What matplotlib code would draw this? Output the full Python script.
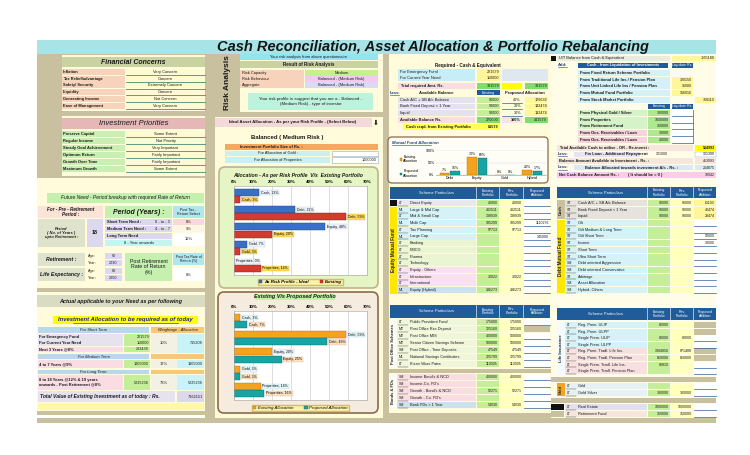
import matplotlib
matplotlib.use('Agg')
import matplotlib.pyplot as plt
from matplotlib.patches import Rectangle, FancyBboxPatch
import numpy as np

plt.rcParams['font.family'] = ['Liberation Sans', 'DejaVu Sans']

# ---------------- data ----------------
title = "Cash Reconciliation, Asset Allocation & Portfolio Rebalancing"
asset_classes = ['Cash', 'Debt', 'Equity', 'Gold', 'Properties']
ideal_alloc = [13, 32, 48, 7, 0]
existing_alloc = [3, 59, 20, 3, 14]
proposed_alloc = [7, 49, 25, 3, 16]
alloc_ticks = [0, 10, 20, 30, 40, 50, 60, 70]

mf_classes = ['Debt', 'Equity', 'Gold', 'Hybrid']
mf_existing = [7, 73, 0, 20]
mf_proposed = [15, 68, 0, 17]
mf_ticks = [0, 50, 100]

fin_concerns = ['Inflation', 'Tax Relief/advantage', 'Safety/ Security', 'Liquidity',
                'Generating Income', 'Ease of Management']
fin_levels = ['Very Concern', 'Concern', 'Extremely Concern', 'Concern', 'Not Concern', 'Very Concern']
priorities = ['Preserve Capital', 'Regular Income', 'Steady Goal Achievement', 'Optimum Return',
              'Growth Over Time', 'Maximum Growth']
priority_levels = ['Some Extent', 'Not Priority', 'Very Important', 'Fairly Important',
                   'Fairly Important', 'Some Extent']

risk_items = ['Risk Capacity', 'Risk Behaviour', 'Aggregate']
risk_results = ['Medium', 'Balanced - (Medium Risk)', 'Balanced - (Medium Risk)']

need_terms = ['Short Term Need :', 'Medium Term Need :', 'Long Term Need']
need_ranges = ['0 - to - 3', '4 - to - 7', '']
need_returns = ['8%', '9%', '12%']

short_labels = ['For Emergency Fund', 'For Current Year Need', 'Next 3 Years @8%']
short_values = ['221579', '110000', '283438']
term_weights = ['10%', '17%', '73%']
term_alloc = ['715208', '1305000', '5225236']
medium_value = '1305000'
long_value = '5225236'
total_existing = '7162151'

cash_req_labels = ['For Emergency Fund', 'For Current Year Need']
cash_req_values = ['221579', '110000']
total_required = '331579'
avail_labels = ['Cash A/C + SB A/c Balance', 'Bank Fixed Deposit < 1 Year', 'Liquid']
avail_existing = ['90000', '90000', '90000']
avail_pct = ['40%', '30%', '30%']
avail_proposed = ['176632', '132474', '132474']
avail_total = '270000'
proposed_total = '441579'
cash_reqd = '61579'

eq_codes = ['LT', 'ML', 'LT', 'ML', 'LT', 'ML', 'LT', 'LT', 'LT', 'LT', 'LT', 'LT', 'LT', 'ML']
eq_schemes = ['Direct Equity', 'Large & Mid Cap', 'Mid & Small Cap', 'Multi Cap', 'Tax Planning',
              'Large Cap', 'Banking', 'FMCG', 'Pharma', 'Technology', 'Equity - Others',
              'Infrastructure', 'International', 'Equity (Hybrid)']
eq_existing = ['40000', '402511', '138939', '185299', '97713', '', '', '', '', '', '', '32022', '', '286273']
eq_revised = ['40000', '402511', '138939', '185299', '97713', '', '', '', '', '', '', '32022', '', '286273']
eq_proposed = ['', '', '', '1110276', '', '145000', '', '', '', '', '', '', '', '']

po_codes = ['LT', 'MT', 'MT', 'MT', 'SM', 'ML', 'LT']
po_schemes = ['Public Provident Fund', 'Post Office Rec Deposit', 'Post Office MIS',
              'Senior Citizen Savings Scheme', 'Post Office - Time Deposits',
              'National Savings Certificates', 'Kisan Vikas Patra']
po_existing = ['175000', '125160', '400000', '500000', '47549', '125799', '110005']
po_revised = ['175000', '125160', '500000', '500000', '47549', '125799', '110005']

bond_codes = ['SM', 'SM', 'SM', 'SM', 'SM']
bond_schemes = ["Income Bond's & NCD", "Income-Co. FD's", "Growth - Bond's & NCD",
                "Growth - Co. FD's", "Bank FDs > 1 Year"]
bond_existing = ['400000', '', '52271', '', '54030']
bond_revised = ['400000', '', '52271', '', '54030']

liq_labels = ['From Fixed Return Scheme Portfolio', 'From Traditional Life Ins / Pension Plan',
              'From Unit Linked Life Ins / Pension Plan', 'From Mutual Fund Portfolio',
              'From Stock Market Portfolio']
liq_values = ['', '320150', '36000', '156016', '758110']
asset_liq_labels = ['From Physical Gold / Silver', 'From Properties', 'From Retirement Fund',
                    'From Ocs. Receivables / Loan', 'From Ocs. Receivables / Loan']
asset_liq_existing = ['300000', '1000000', '150000', '30000', '40000']
ut_balance = '-165180'
total_available = '534993'
loan_repay = ['121000', '121390']
balance_available = '413993'
balance_allocated = '204875'
net_cash = '10942'

cash_codes = ['ST', 'ST', 'ST']
cash_schemes = ['Cash A/C + SB A/c Balance', 'Bank Fixed Deposit < 1 Year', 'Liquid']
cash_existing = ['90000', '90000', '90000']
cash_revised = ['90000', '90000', '90000']
cash_proposed = ['61103', '42474', '28474']

debt_codes = ['ST', 'ST', 'ST', 'ST', 'ST', 'ST', 'SM', 'SM', 'ST', 'SM', 'SM']
debt_schemes = ['Gilt', 'Gilt Medium & Long Term', 'Gilt Short Term', 'Income', 'Short Term',
                'Ultra Short Term', 'Debt oriented Aggressive', 'Debt oriented Conservative',
                'Arbitrage', 'Asset Allocation', 'Hybrid- Others']
debt_proposed = ['', '', '50000', '30000', '', '', '', '', '', '', '']

ins_codes = ['LT'] * 8
ins_schemes = ['Reg. Prem. ULIP', 'Reg. Prem. ULPP', 'Single Prem. ULIP', 'Single Prem. ULPP',
               'Reg. Prem. Tradl. Life Ins.', 'Reg. Prem. Tradl. Pension Plan',
               'Single Prem. Tradl. Life Ins.', 'Single Prem. Tradl. Pension Plan']
ins_existing = ['80000', '', '80000', '', '1384850', '860000', '80810', '']
ins_revised = ['', '', '80000', '', '871488', '860000', '', '']

gold_codes = ['LT', 'LT']
gold_schemes = ['Gold', 'Gold Silver']
gold_existing = ['', '300000']
gold_revised = ['', '300000']

other_codes = ['LT', 'LT']
other_schemes = ['Real Estate', 'Retirement Fund']
other_existing = ['1000000', '150000']
other_revised = ['1000000', '150000']

# ---------------- colours ----------------
TAN = '#c9c09f'
LY = '#fffbdb'
CYAN = '#a8e4e6'
OLIVE = '#c9d3a2'
PEACH = '#f7d3bc'
PINKH = '#e6b7b7'
LGREEN = '#c9efb2'
LIME = '#c5ee98'
PALEY = '#ffffbe'
LCYAN = '#d5f2f8'
PINK = '#f9dde3'
LAV = '#dcd9ef'
BLUE = '#1f5c99'
GREENV = '#7ee06a'
YEL = '#fff59a'

fig = plt.figure(figsize=(7.5, 4.55), dpi=100)
fig.patch.set_facecolor('white')
ax = fig.add_axes([0, 0, 1, 1])
ax.set_xlim(0, 750)
ax.set_ylim(455, 0)
ax.axis('off')


def R(x0, y0, x1, y1, fc, ec='none', lw=0.4, z=1):
    ax.add_patch(Rectangle((x0, y0), x1 - x0, y1 - y0, facecolor=fc, edgecolor=ec, linewidth=lw, zorder=z))


def T(x, y, s, fs=3.0, ha='left', va='center', c='#1a1a1a', w='normal', st='normal', z=5, **kw):
    ax.text(x, y, s, fontsize=fs, ha=ha, va=va, color=c, fontweight=w, fontstyle=st, zorder=z, **kw)


def UL(x0, x1, y, c='#2f5f9f', lw=0.5):
    ax.plot([x0, x1], [y, y], color=c, lw=lw, zorder=4)


# ---------------- background / frame ----------------
R(37, 40, 716, 54, CYAN)
T(433, 47.5, title, fs=10.5, w='bold', st='italic', ha='center', c='#151515')
R(37, 54, 215, 178, TAN)
R(62, 55, 205, 176, LY)
R(37, 178, 205, 411, LY)
R(205, 54, 215, 418, TAN)
R(37, 411, 205, 415, TAN)
R(215, 54, 383, 418, LY)
R(383, 54, 389, 418, TAN)
R(389, 54, 551, 418, LY)
R(551, 54, 716, 418, '#fffde8')
R(37, 418, 716, 423, TAN)

# ---------------- left panel ----------------
R(62, 57, 205, 67, OLIVE)
T(133.5, 62, 'Financial Concerns', fs=5, w='bold', st='italic', ha='center')
for i, (lab, lev) in enumerate(zip(fin_concerns, fin_levels)):
    y = 69 + i * 6.7
    R(62, y, 125, y + 6.0, PEACH)
    R(126, y, 205, y + 6.0, '#fdfbd2')
    UL(126, 205, y + 6.1, c='#2f6f5f')
    T(63, y + 3.0, lab, fs=2.9, w='bold')
    T(165.5, y + 3.0, lev, fs=2.9, ha='center')
R(62, 111, 205, 116, TAN)
R(62, 118, 205, 129, PINKH)
T(133.5, 123.5, 'Investment Priorities', fs=5.5, st='italic', ha='center')
for i, (lab, lev) in enumerate(zip(priorities, priority_levels)):
    y = 131 + i * 6.9
    R(62, y, 125, y + 6.2, LGREEN)
    R(126, y, 205, y + 6.2, '#fdfbd2')
    UL(126, 205, y + 6.3, c='#2f6f5f')
    T(63, y + 3.1, lab, fs=2.9, w='bold')
    T(165.5, y + 3.1, lev, fs=2.9, ha='center')

R(47, 193, 204, 203, '#c5f0b0')
T(125.5, 198, 'Future Need - Period breakup with required Rate of Return', fs=3.6, st='italic', ha='center')
R(38, 206, 103, 218, '#fbe3d8')
T(70.5, 212, 'For - Pre - Retirement\nPeriod :', fs=3.3, w='bold', st='italic', ha='center', linespacing=1.0)
R(105, 206, 172, 218, '#c5f0b0')
T(138.5, 212, 'Period (Years) :', fs=5, w='bold', st='italic', ha='center')
R(173, 206, 204, 218, '#aee8ee')
T(188.5, 212, 'Post Tax -\nReturn Select', fs=2.7, ha='center', linespacing=1.0)
R(38, 219, 85, 247, '#dfe3cc')
T(61.5, 233, 'Period\n( No. of Years )\nupto Retirement :', fs=2.9, st='italic', w='bold', ha='center', linespacing=1.1)
R(87, 219, 103, 247, LAV)
T(95, 233, '18', fs=4, w='bold', ha='center')
for i, (lab, rng) in enumerate(zip(need_terms, need_ranges)):
    y = 219 + i * 7
    R(105, y, 172, y + 6, LAV)
    T(107, y + 3, lab, fs=2.9, w='bold')
    if rng:
        T(170, y + 3, rng, fs=2.9, ha='right')
R(105, 240, 172, 246, '#c5f5f0')
T(138.5, 243, '8 - Year onwards', fs=2.9, ha='center')
R(173, 219, 204, 225, '#f8d8d8')
T(188.5, 222, need_returns[0], fs=3, ha='center')
R(173, 226, 204, 232, '#fdf6e8')
T(188.5, 229, need_returns[1], fs=3, ha='center')
R(173, 233, 204, 246, 'white')
T(188.5, 239.5, need_returns[2], fs=3, ha='center')

R(38, 253, 85, 266, '#dfe3cc')
T(61.5, 259.5, 'Retirement :', fs=3.8, st='italic', w='bold', ha='center')
R(38, 268, 85, 281, '#dfe3cc')
T(61.5, 274.5, 'Life Expectancy :', fs=3.8, st='italic', w='bold', ha='center')
for j, (age, yr, y) in enumerate([('60', '2030', 253), ('80', '2050', 268)]):
    T(88, y + 3, 'Age:', fs=2.7)
    T(88, y + 10, 'Year:', fs=2.7)
    R(105, y, 122, y + 6, LAV)
    T(113.5, y + 3, age, fs=2.7, ha='center')
    R(105, y + 7, 122, y + 13, LAV)
    T(113.5, y + 10, yr, fs=2.7, ha='center')
R(125, 253, 172, 281, '#c5f0b0')
T(148.5, 267, 'Post Retirement\nRate of Return\n(%)', fs=3.8, ha='center', linespacing=1.1)
R(173, 253, 204, 265, '#aee8ee')
T(188.5, 259, 'Post Tax Rate of\nReturn (%)', fs=2.5, ha='center', linespacing=1.0)
R(173, 268, 204, 281, 'white')
T(188.5, 274.5, '8%', fs=3, ha='center')

R(37, 288, 205, 292, TAN)
R(37, 295, 205, 307, '#d9dcc2')
T(121, 301, 'Actual applicable to your Need as per following', fs=4, w='bold', st='italic', ha='center')
R(53, 316, 198, 324, '#ffff00')
T(125.5, 320, 'Investment Allocation to be required as of today', fs=4.2, w='bold', st='italic',
  ha='center', c='#1f1f8f')
UL(73, 178, 323.3, c='#1f1f8f', lw=0.4)

R(38, 327, 149, 333, '#b9d9ea')
T(93.5, 330, 'For Short Term', fs=2.9, st='italic', ha='center')
R(151, 327, 204, 333, '#f8c878')
T(177.5, 330, 'Weightage - Allocation', fs=2.9, st='italic', ha='center')
for i, (lab, val) in enumerate(zip(short_labels, short_values)):
    y = 334 + i * 6.3
    R(38, y, 123, y + 5.8, PINK if i == 2 else '#e6e3ee')
    T(39, y + 2.9, lab, fs=2.9, w='bold')
    R(124, y, 150, y + 5.8, LIME)
    T(149, y + 2.9, val, fs=2.7, ha='right')
R(151, 334, 177, 353, '#f3f1e3')
T(164, 343.5, term_weights[0], fs=3, ha='center')
R(177, 334, 204, 353, '#c9f3f7')
T(203, 343.5, term_alloc[0], fs=2.7, ha='right')

R(38, 354, 149, 359, '#b9d9ea')
T(93.5, 356.5, 'For Medium Term', fs=2.9, st='italic', ha='center')
R(151, 354, 204, 359, '#f8c878')
R(38, 360, 123, 368, PINK)
T(39, 364, '4 to 7 Years @9%', fs=2.9, w='bold')
R(124, 360, 150, 368, LIME)
T(149, 364, medium_value, fs=2.7, ha='right')
R(151, 360, 177, 368, '#f3f1e3')
T(164, 364, term_weights[1], fs=3, ha='center')
R(177, 360, 204, 368, '#c9f3f7')
T(203, 364, term_alloc[1], fs=2.7, ha='right')

R(38, 370, 149, 374, '#b9d9ea')
T(93.5, 372, 'For Long Term', fs=2.9, st='italic', ha='center')
R(151, 370, 204, 374, '#f8c878')
R(38, 375, 123, 390, PINK)
T(39, 382.5, '8 to 18 Years @12% & 19 years\nonwards - Post Retirement @8%', fs=2.9, w='bold', linespacing=1.2)
R(124, 375, 150, 390, LIME)
T(149, 382.5, long_value, fs=2.7, ha='right')
R(151, 375, 177, 390, '#f3f1e3')
T(164, 382.5, term_weights[2], fs=3, ha='center')
R(177, 375, 204, 390, '#c9f3f7')
T(203, 382.5, term_alloc[2], fs=2.7, ha='right')
R(38, 391, 175, 402, '#e6e3ee')
T(40, 396.5, 'Total Value of Existing Investment as of today : Rs.', fs=3.6, st='italic', w='bold')
R(177, 391, 204, 402, LAV)
T(203, 396.5, total_existing, fs=2.8, ha='right')
R(38, 403, 204, 410, '#fff8a8')

# ---------------- risk analysis column ----------------
R(215, 54, 240, 112, TAN)
T(227.5, 83, 'Risk Analysis', fs=6, w='bold', rotation=90, ha='center')
R(240, 54, 378, 59.5, '#8fe6f0')
T(309, 56.8, 'Your risk analysis from above questionnaire', fs=2.9, ha='center')
R(240, 61, 378, 68, OLIVE)
T(309, 64.5, 'Result of Risk Analysis', fs=3.3, w='bold', ha='center')
risk_cols = ['#c8f08a', '#f3c9f0', '#d9d9f8']
for i, (it, res) in enumerate(zip(risk_items, risk_results)):
    y = 70 + i * 6
    R(240, y, 304, y + 5.5, PEACH)
    T(242, y + 2.75, it, fs=2.9)
    R(305, y, 378, y + 5.5, risk_cols[i])
    T(341.5, y + 2.75, res, fs=2.9, ha='center')
R(248, 93, 373, 110, '#bdf2dc')
T(310.5, 101.5, 'Your risk profile is suggest that you are a - Balanced -\n(Medium Risk) - type of investor',
  fs=3.2, ha='center', linespacing=1.3)
R(215, 112, 383, 117, TAN)
R(215, 118, 372, 127, '#f3d9d9')
T(293, 122.5, 'Ideal Asset Allocation - As per your Risk Profile - (Select Below)', fs=3.1, w='bold', ha='center')
T(376, 122.5, '\u2b07', fs=5, ha='center', family=['DejaVu Sans'])
T(287, 137, 'Balanced ( Medium Risk )', fs=4.3, w='bold', ha='center')
R(225, 144, 378, 149.5, '#f5a860')
T(240, 146.8, 'Investment Portfolio Size of Rs. :', fs=2.9, w='bold')
R(225, 151, 330, 156, '#c7f1f5')
T(277.5, 153.5, 'For Allocation of Gold :', fs=2.9, ha='center')
R(332, 151, 378, 156, 'white', ec='#8fa9c9', lw=0.4)
R(225, 157, 330, 162.5, '#c7f1f5')
T(277.5, 159.8, 'For Allocation of Properties', fs=2.9, ha='center')
R(332, 157, 378, 162.5, 'white', ec='#8fa9c9', lw=0.4)
T(377, 159.8, '1000000', fs=2.7, ha='right')

# chart frames
ax.add_patch(FancyBboxPatch((219, 167), 159, 121, boxstyle='round,pad=0,rounding_size=6',
                            fc='#e5f5c4', ec='#bdb38f', lw=1.2, zorder=1))
T(298, 175.5, 'Allocation - As per Risk Profile  V/s  Existing Portfolio', fs=3.7, w='bold',
  st='italic', ha='center')
ax.add_patch(FancyBboxPatch((218, 292), 160, 121, boxstyle='round,pad=0,rounding_size=6',
                            fc='#f6ebdf', ec='#8b6b4b', lw=1.2, zorder=1))
R(255, 293.5, 335, 300, '#c4f2a8')
T(295, 296.8, 'Existing V/s Proposed Portfolio', fs=4, w='bold', st='italic', ha='center')

# ---------------- middle-right column ----------------
T(468, 65, 'Required - Cash & Equivalent', fs=3.3, w='bold', ha='center')
for i, (lab, val) in enumerate(zip(cash_req_labels, cash_req_values)):
    y = 69 + i * 6
    R(398, y, 475, y + 5.5, '#c7eef7')
    T(400, y + 2.75, lab, fs=2.9)
    R(477, y, 500, y + 5.5, YEL)
    T(499, y + 2.75, val, fs=2.7, ha='right')
R(502, 69, 548, 80.5, '#dfe8ef')
R(398, 83, 475, 88.5, PINK)
T(400, 85.8, 'Total required Amt. Rs.', fs=2.9, w='bold')
R(477, 83, 500, 88.5, GREENV)
T(499, 85.8, total_required, fs=2.7, ha='right')
R(502, 83, 522, 88.5, '#ffff00')
R(525, 83, 548, 88.5, GREENV)
T(547, 85.8, total_required, fs=2.7, ha='right')
T(390, 92.5, 'Less:', fs=3, w='bold', c='#1f3f7f')
UL(390, 399, 94.6, c='#1f3f7f', lw=0.4)
T(436, 92.5, 'Available Balance', fs=3, w='bold', ha='center')
R(477, 90, 500, 95.3, BLUE)
T(488.5, 92.6, 'Existing', fs=2.7, c='white', ha='center')
T(525, 92.6, 'Proposed Allocation', fs=3, w='bold', ha='center')
for i, (lab, ex, pc, pr) in enumerate(zip(avail_labels, avail_existing, avail_pct, avail_proposed)):
    y = 97 + i * 6.5
    R(398, y, 475, y + 5.5, '#e5e2ef')
    T(400, y + 2.75, lab, fs=2.9)
    R(477, y, 500, y + 5.5, LIME)
    T(499, y + 2.75, ex, fs=2.7, ha='right')
    UL(502, 522, y + 5.6)
    T(521, y + 2.75, pc, fs=2.7, ha='right')
    R(525, y, 548, y + 5.5, YEL)
    T(547, y + 2.75, pr, fs=2.7, ha='right')
R(398, 117, 475, 122.5, PINK)
T(400, 119.8, 'Available Balance Rs.', fs=2.9, w='bold')
R(477, 117, 500, 122.5, GREENV)
T(499, 119.8, avail_total, fs=2.7, ha='right')
R(502, 117, 522, 122.5, '#f8e4e4')
T(521, 119.8, '100%', fs=2.7, ha='right', w='bold')
R(525, 117, 548, 122.5, GREENV)
T(547, 119.8, proposed_total, fs=2.7, ha='right')
R(403, 124, 500, 129.5, '#ffff55')
T(406, 126.8, 'Cash reqd. from Existing Portfolio', fs=2.9, w='bold')
T(499, 126.8, cash_reqd, fs=2.7, ha='right', w='bold')

ax.add_patch(FancyBboxPatch((388, 137), 160, 46, boxstyle='round,pad=0,rounding_size=4',
                            fc='#fffef6', ec='#8b6b4b', lw=0.9, zorder=1))
T(392, 143, 'Mutual Fund Allocation', fs=3.1, w='bold', st='italic', c='#1f3f7f')
UL(392, 431, 145.2, c='#1f3f7f', lw=0.4)


def table_header(cols, y0, y1):
    R(cols['grp'][0], y0, cols['prop'][1], y1, BLUE)
    T((cols['code'][0] + cols['name'][1]) / 2, (y0 + y1) / 2, 'Scheme Particulars', c='white', ha='center', fs=2.9)
    for key, lab in [('ex', 'Existing\nPortfolio'), ('rev', 'Rev.\nPortfolio'), ('prop', 'Proposed\nAddition')]:
        x0, x1 = cols[key]
        ax.plot([x0 - 0.6, x0 - 0.6], [y0, y1], color='#dfe8f5', lw=0.5, zorder=3)
        T((x0 + x1) / 2, (y0 + y1) / 2, lab, c='white', ha='center', fs=2.5, linespacing=1.0)


def table_rows(cols, y0, rh, codes, names, ex, rev, prop, colors, prop_bg=None):
    for i in range(len(names)):
        y = y0 + i * rh
        y1 = y + rh - 0.7
        ym = (y + y1) / 2
        R(cols['code'][0], y, cols['name'][1], y1, colors[i])
        UL(cols['code'][0] + 0.5, cols['code'][1] - 1, y1 - 0.2, c='#333333', lw=0.3)
        T(cols['code'][0] + 1.5, ym, codes[i], fs=2.6)
        T(cols['name'][0] + 1, ym, names[i], fs=2.8)
        R(cols['ex'][0], y, cols['ex'][1], y1, LIME)
        T(cols['ex'][1] - 1, ym, ex[i], fs=2.6, ha='right')
        R(cols['rev'][0], y, cols['rev'][1], y1, PALEY)
        T(cols['rev'][1] - 1, ym, rev[i], fs=2.6, ha='right')
        bg = prop_bg[i] if prop_bg is not None else 'white'
        R(cols['prop'][0], y, cols['prop'][1], y1, bg)
        if bg == 'white':
            UL(cols['prop'][0], cols['prop'][1], y1, lw=0.5)
        if prop is not None:
            T(cols['prop'][1] - 1, ym, prop[i], fs=2.6, ha='right')


def group(cols, y0, y1, fc, label, fs=3.0, c='#222222'):
    R(cols['grp'][0], y0, cols['grp'][1], y1, fc)
    if label:
        T((cols['grp'][0] + cols['grp'][1]) / 2, (y0 + y1) / 2, label, rotation=90, ha='center',
          fs=fs, w='bold', c=c)


MID = dict(grp=(390, 397), code=(397, 409), name=(409, 476), ex=(477, 499), rev=(500, 523), prop=(524, 550))
RIGHT = dict(grp=(557, 565), code=(565, 577), name=(577, 647), ex=(648, 670), rev=(671, 693), prop=(694, 716))

# equity MF table
table_header(MID, 187, 199)
eq_colors = ['#e9e9e9'] + [LCYAN] * 5 + ['#e9f5d3'] * 4 + ['#f9e1f2'] * 3 + ['#c9e1f1']
table_rows(MID, 200, 6.7, eq_codes, eq_schemes, eq_existing, eq_revised, eq_proposed, eq_colors)
group(MID, 200, 206.2, '#111111', '')
group(MID, 206.7, 293.8, '#ffe800', 'Equity Mutual Fund', fs=3.3)

# post office + bonds table
table_header(MID, 305, 318)
po_pbg = ['white', TAN, 'white', 'white', 'white', 'white', 'white']
table_rows(MID, 319, 7, po_codes, po_schemes, po_existing, po_revised, None, ['#eef6dc'] * 7, po_pbg)
group(MID, 319, 368, '#fbfbf4', 'Post Office Schemes', fs=2.9)
R(389, 368.5, 551, 373, TAN)
bond_colors = [PINK] * 4 + ['#c9e1f1']
table_rows(MID, 374, 7, bond_codes, bond_schemes, bond_existing, bond_revised, None, bond_colors)
group(MID, 374, 409, '#fbfbf4', 'Bonds & FDs', fs=2.9)
R(389, 413, 551, 418, TAN)

# ---------------- right column ----------------
R(551, 56, 556, 60.5, '#111111')
R(557, 56, 670, 60.5, '#e8ecd8')
T(559, 58.2, 'U/T Balance from Cash & Equivalent', fs=2.9)
R(672, 56, 716, 60.5, YEL)
T(715, 58.2, ut_balance, fs=2.7, ha='right')
T(558, 64.5, 'Add:', fs=3, w='bold', c='#1f3f7f')
UL(558, 567, 66.6, c='#1f3f7f', lw=0.4)
R(578, 62.5, 668, 67.5, BLUE)
T(623, 65, 'Cash - from Liquidation of Investments', fs=2.8, c='white', ha='center', w='bold')
R(672, 62.5, 693, 67.5, BLUE)
T(682.5, 65, 'Liquidate Rs.', fs=2.5, c='white', ha='center')
for i, (lab, val) in enumerate(zip(liq_labels, liq_values)):
    y = 70 + i * 6.7
    R(578, y, 670, y + 6.0, '#d4f0f8')
    T(580, y + 3, lab, fs=2.9, w='bold')
    if i < 4:
        R(672, y, 693, y + 6.0, YEL if val else '#fbfbf4')
        T(692, y + 3, val, fs=2.6, ha='right')
    else:
        R(695, y, 716, y + 6.0, YEL)
        T(715, y + 3, val, fs=2.6, ha='right')
R(648, 103.5, 670, 108.5, BLUE)
T(659, 106, 'Existing', fs=2.6, c='white', ha='center')
R(672, 103.5, 693, 108.5, BLUE)
T(682.5, 106, 'Liquidate Rs.', fs=2.5, c='white', ha='center')
for i, (lab, val) in enumerate(zip(asset_liq_labels, asset_liq_existing)):
    y = 110 + i * 6.7
    R(578, y, 647, y + 6.0, '#d5f3c8' if i < 3 else '#f7d3dc')
    T(580, y + 3, lab, fs=2.9, w='bold')
    R(648, y, 670, y + 6.0, '#aee890')
    T(669, y + 3, val, fs=2.6, ha='right')
    R(672, y, 693, y + 6.0, 'white')
    UL(672, 693, y + 6.0, lw=0.5)
    ax.plot([693, 693], [y, y + 6], color='#2f5f9f', lw=0.5, zorder=4)
R(557, 145, 693, 150.5, '#f6e6dc')
T(559, 147.8, 'Total Available Cash to utilise - OR - Re-invest :', fs=2.9, w='bold')
R(695, 145, 716, 150.5, '#ffff00')
T(715, 147.8, total_available, fs=2.6, ha='right', w='bold')
T(558, 154, 'Less:', fs=3, w='bold', c='#1f3f7f')
UL(558, 567, 156.1, c='#1f3f7f', lw=0.4)
R(574, 151.5, 640, 156.5, '#e6e3f2')
T(585, 154, 'Fin Loan - Additional Repayment', fs=2.9, w='bold')
T(668, 154, loan_repay[0], fs=2.6, ha='right')
R(695, 151.5, 716, 156.5, 'white', ec='#8fa9c9', lw=0.3)
T(715, 154, loan_repay[1], fs=2.6, ha='right')
R(557, 158, 693, 163.5, '#f6e6dc')
T(559, 160.8, 'Balance Amount Available to Investment - Rs. :', fs=2.9, w='bold')
R(695, 158, 716, 163.5, '#f6e6dc')
T(715, 160.8, balance_available, fs=2.6, ha='right')
T(558, 167.5, 'Less:', fs=3, w='bold', c='#1f3f7f')
UL(558, 567, 169.6, c='#1f3f7f', lw=0.4)
R(574, 165, 693, 170.3, '#dbe9f5')
T(585, 167.6, 'Balance Allocated towards investment A/c - Rs. :', fs=2.9, w='bold')
R(695, 165, 716, 170.3, '#dbe9f5')
T(715, 167.6, balance_allocated, fs=2.6, ha='right')
R(557, 172, 716, 177.5, '#f7cdea')
T(559, 174.8, 'Net Cash Balance Amount Rs. :', fs=2.9, w='bold')
T(645, 174.8, '( It should be = 0 )', fs=2.9, w='bold', ha='center')
T(715, 174.8, net_cash, fs=2.6, ha='right')

# cash / debt table
table_header(RIGHT, 187, 198)
table_rows(RIGHT, 200, 6.7, cash_codes, cash_schemes, cash_existing, cash_revised, cash_proposed,
           ['#e6e2dc'] * 3, [YEL] * 3)
group(RIGHT, 200, 219.4, TAN, 'Cash', fs=3)
table_rows(RIGHT, 220, 6.7, debt_codes, debt_schemes, [''] * 11, [''] * 11, debt_proposed, [LCYAN] * 11)
group(RIGHT, 220, 293.2, '#ffe800', 'Debt Mutual Fund', fs=3.3)

# insurance / gold / other table
table_header(RIGHT, 308, 320)
ins_colors = [LCYAN] * 4 + ['#f8e0e0'] * 4
ins_pbg = [TAN, TAN, 'white', 'white', TAN, TAN, 'white', 'white']
table_rows(RIGHT, 322, 6.6, ins_codes, ins_schemes, ins_existing, ins_revised, None, ins_colors, ins_pbg)
group(RIGHT, 322, 374.8, '#f2fbfd', 'Life Insurance', fs=3.0)
R(551, 377, 716, 382, TAN)
table_rows(RIGHT, 383, 7, gold_codes, gold_schemes, gold_existing, gold_revised, None, ['#e6f1f7'] * 2)
group(RIGHT, 383, 396.3, '#f3a423', 'Gold', fs=2.9)
R(551, 398, 716, 403, TAN)
table_rows(RIGHT, 404, 7, other_codes, other_schemes, other_existing, other_revised, None,
           ['#e3e0ee', '#f6e6dc'])
R(551, 404, 564, 410.3, '#111111')
R(551, 411, 564, 417.3, TAN)


# ---------------- charts ----------------
def px_axes(x0, y0, x1, y1):
    return fig.add_axes([x0 / 750, 1 - y1 / 455, (x1 - x0) / 750, (y1 - y0) / 455])


def style_hbar(a):
    a.set_xlim(0, 70)
    a.set_ylim(len(asset_classes) - 0.4, -0.6)
    a.xaxis.tick_top()
    a.set_xticks(alloc_ticks)
    a.set_xticklabels([f'{t}%' for t in alloc_ticks], fontsize=3.2, fontweight='bold')
    a.tick_params(length=0, pad=1.2)
    a.set_yticks([])
    a.grid(axis='x', color='#c4c4c4', lw=0.4)
    a.set_axisbelow(True)
    a.set_facecolor('white')
    for s in a.spines.values():
        s.set_color('#a0a0a0')
        s.set_linewidth(0.4)


pos = np.arange(len(asset_classes))
h = 0.41

a1 = px_axes(234, 186, 367, 275)
b1 = a1.barh(pos - 0.21, ideal_alloc, height=h, color='#3a6fc6', edgecolor='#1e3f85', lw=0.3,
             label='As Risk Profile - Ideal')
b2 = a1.barh(pos + 0.21, existing_alloc, height=h, color='#d33a30', edgecolor='#8a1d17', lw=0.3,
             label='Existing')
style_hbar(a1)
for p, v, c in zip(pos, ideal_alloc, asset_classes):
    a1.text(v + 1.0, p - 0.21, f'{c}, {v}%', fontsize=2.6, va='center', ha='left', zorder=6,
            bbox=dict(boxstyle='square,pad=0.15', fc='#f0f6ff', ec='#9fb3cf', lw=0.2))
for p, v, c in zip(pos, existing_alloc, asset_classes):
    a1.text(v + 1.0, p + 0.21, f'{c}, {v}%', fontsize=2.6, va='center', ha='left', zorder=6,
            bbox=dict(boxstyle='square,pad=0.15', fc='#ffd95e', ec='#c9a23a', lw=0.2))
a1.legend(loc='upper center', bbox_to_anchor=(0.5, -0.02), ncol=2, frameon=True, facecolor='#fff2a0',
          edgecolor='#c8b060', fancybox=False, handlelength=0.7, handleheight=0.6, borderpad=0.25,
          columnspacing=2.5, handletextpad=0.4, prop={'weight': 'bold', 'style': 'italic', 'size': 3.2})

a2 = px_axes(234, 311, 367, 400)
c1 = a2.barh(pos - 0.21, existing_alloc, height=h, color='#f5a21e', edgecolor='#b87208', lw=0.3,
             label='Existing Allocation')
c2 = a2.barh(pos + 0.21, proposed_alloc, height=h, color='#19a3a3', edgecolor='#0d6b6b', lw=0.3,
             label='Proposed Allocation')
style_hbar(a2)
for p, v, c in zip(pos, existing_alloc, asset_classes):
    a2.text(v + 1.0, p - 0.21, f'{c}, {v}%', fontsize=2.6, va='center', ha='left', zorder=6,
            bbox=dict(boxstyle='square,pad=0.15', fc='#e6f8fb', ec='#9fc3cf', lw=0.2))
for p, v, c in zip(pos, proposed_alloc, asset_classes):
    a2.text(v + 1.0, p + 0.21, f'{c}, {v}%', fontsize=2.6, va='center', ha='left', zorder=6,
            bbox=dict(boxstyle='square,pad=0.15', fc='#fde3c4', ec='#d0a070', lw=0.2))
a2.legend(loc='upper center', bbox_to_anchor=(0.5, -0.03), ncol=2, frameon=True, facecolor='#fff2a0',
          edgecolor='#c8b060', fancybox=False, handlelength=0.7, handleheight=0.6, borderpad=0.25,
          columnspacing=2.5, handletextpad=0.4, prop={'style': 'italic', 'size': 3.2})

a3 = px_axes(436, 150, 546, 175)
mpos = np.arange(len(mf_classes))
w = 0.36
d1 = a3.bar(mpos - 0.19, mf_existing, width=w, color='#f5a21e', edgecolor='#b87208', lw=0.3,
            label='Existing\nAllocation')
d2 = a3.bar(mpos + 0.19, mf_proposed, width=w, color='#19a3a3', edgecolor='#0d6b6b', lw=0.3,
            label='Proposed\nAllocation')
for p, v in zip(mpos, mf_existing):
    a3.text(p - 0.19, v + 4, f'{v}%', fontsize=2.5, ha='center', va='bottom')
for p, v in zip(mpos, mf_proposed):
    a3.text(p + 0.19, v + 4, f'{v}%', fontsize=2.5, ha='center', va='bottom')
a3.set_ylim(0, 100)
a3.set_xlim(-0.5, len(mf_classes) - 0.5)
a3.set_yticks(mf_ticks)
a3.set_yticklabels([f'{t}%' for t in mf_ticks], fontsize=2.6)
a3.set_xticks(mpos)
a3.set_xticklabels(mf_classes, fontsize=2.7)
a3.tick_params(length=0, pad=1)
a3.grid(axis='y', color='#d0d0d0', lw=0.3)
a3.set_axisbelow(True)
a3.set_facecolor('#fffef6')
for k, s in a3.spines.items():
    s.set_visible(k == 'bottom')
    s.set_color('#909090')
    s.set_linewidth(0.4)
a3.legend(loc='center right', bbox_to_anchor=(-0.13, 0.35), frameon=False, fontsize=2.5,
          handlelength=0.6, handleheight=0.6, labelspacing=1.6, handletextpad=0.3)

fig.savefig('out.png', dpi=100, facecolor='white')
